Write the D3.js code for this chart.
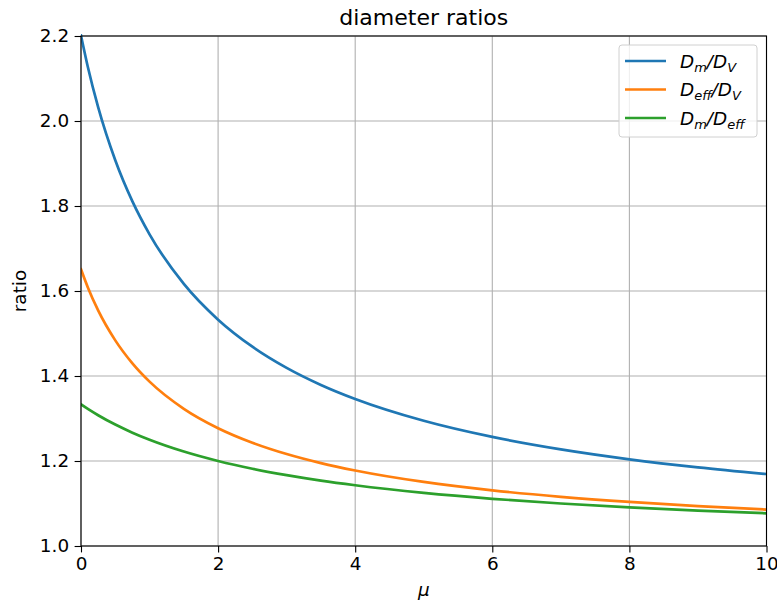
<!DOCTYPE html>
<html><head><meta charset="utf-8">
<script src="https://cdn.jsdelivr.net/npm/d3@7"></script>
<style>body{margin:0;background:#fff}svg{display:block;font-family:"DejaVu Sans",sans-serif}</style>
</head><body>
<svg id="c" width="777" height="606"></svg>
<script>
const mu      = [0, 0.1, 0.25, 0.5, 0.75, 1, 1.5, 2, 2.5, 3, 3.5, 4, 5, 6, 7, 8, 9, 10];
const dmDv    = [2.2013, 2.1271, 2.0326, 1.9077, 1.8109, 1.7334, 1.6167, 1.5326, 1.4690, 1.4192, 1.3790, 1.3459, 1.2946, 1.2566, 1.2273, 1.2040, 1.1851, 1.1694];
const deffDv  = [1.6510, 1.6083, 1.5543, 1.4838, 1.4297, 1.3867, 1.3228, 1.2772, 1.2430, 1.2164, 1.1951, 1.1777, 1.1507, 1.1309, 1.1157, 1.1037, 1.0939, 1.0858];
const dmDeff  = [1.3333, 1.3226, 1.3077, 1.2857, 1.2667, 1.2500, 1.2222, 1.2000, 1.1818, 1.1667, 1.1538, 1.1429, 1.1250, 1.1111, 1.1000, 1.0909, 1.0833, 1.0769];
const xTicks  = [0, 2, 4, 6, 8, 10];
const yTicks  = [1.0, 1.2, 1.4, 1.6, 1.8, 2.0, 2.2];
const seriesNames = [["D","m","D","V"], ["D","eff","D","V"], ["D","m","D","eff"]];
const colors  = ["#1f77b4", "#ff7f0e", "#2ca02c"];
const series  = [dmDv, deffDv, dmDeff];

const svg = d3.select("#c");
const L = 81, R = 766.5, T = 36, B = 546;
const x = d3.scaleLinear().domain([0, 10]).range([L, R]);
const y = d3.scaleLinear().domain([1.0, 2.2]).range([B, T]);

// grid
const g = svg.append("g");
g.selectAll(".gx").data(xTicks).join("line")
  .attr("x1", d => x(d)).attr("x2", d => x(d)).attr("y1", T).attr("y2", B)
  .attr("stroke", "#b0b0b0").attr("stroke-width", 1.1);
g.selectAll(".gy").data(yTicks).join("line")
  .attr("x1", L).attr("x2", R).attr("y1", d => y(d)).attr("y2", d => y(d))
  .attr("stroke", "#b0b0b0").attr("stroke-width", 1.1);

// lines
svg.append("clipPath").attr("id", "clp").append("rect")
  .attr("x", L).attr("y", T - 2).attr("width", R - L).attr("height", B - T + 2);
const line = d3.line().x((d, i) => x(mu[i])).y(d => y(d)).curve(d3.curveMonotoneX);
svg.append("g").attr("clip-path", "url(#clp)").selectAll("path").data(series).join("path")
  .attr("d", line).attr("fill", "none").attr("stroke", (d, i) => colors[i])
  .attr("stroke-width", 2.7).attr("stroke-linecap", "square");

// axes
const fmt = d3.format(".1f");
const xa = svg.append("g").attr("transform", `translate(0,${B})`)
  .call(d3.axisBottom(x).tickValues(xTicks).tickFormat(d3.format("d")).tickSize(6.4).tickSizeOuter(0).tickPadding(5));
const ya = svg.append("g").attr("transform", `translate(${L},0)`)
  .call(d3.axisLeft(y).tickValues(yTicks).tickFormat(fmt).tickSize(6.4).tickSizeOuter(0).tickPadding(5.5));
[xa, ya].forEach(a => {
  a.select(".domain").remove();
  a.selectAll("line").attr("stroke", "#000").attr("stroke-width", 1.1);
  a.selectAll("text").attr("font-size", 18.4).attr("fill", "#000").attr("font-family", "DejaVu Sans");
});
// frame
svg.append("rect").attr("x", L).attr("y", T).attr("width", R - L).attr("height", B - T)
  .attr("fill", "none").attr("stroke", "#000").attr("stroke-width", 1.1);

// labels
svg.append("text").attr("x", (L + R) / 2).attr("y", 25).attr("text-anchor", "middle")
  .attr("font-size", 22).text("diameter ratios");
svg.append("text").attr("x", (L + R) / 2).attr("y", 596).attr("text-anchor", "middle")
  .attr("font-size", 18.4).attr("font-style", "italic").text("μ");
svg.append("text").attr("transform", `translate(25.5,${(T + B) / 2}) rotate(-90)`).attr("text-anchor", "middle")
  .attr("font-size", 18.4).text("ratio");

// legend
const lg = svg.append("g");
lg.append("rect").attr("x", 619).attr("y", 45).attr("width", 138).attr("height", 92).attr("rx", 3)
  .attr("fill", "#fff").attr("fill-opacity", 0.8).attr("stroke", "#d0d0d0").attr("stroke-width", 1);
seriesNames.forEach((n, i) => {
  const yy = 61 + i * 28.5;
  lg.append("line").attr("x1", 625).attr("x2", 666).attr("y1", yy).attr("y2", yy)
    .attr("stroke", colors[i]).attr("stroke-width", 2.7);
  const t = lg.append("text").attr("x", 680).attr("y", yy + 6.5).attr("font-size", 18.4).attr("font-style", "italic");
  t.append("tspan").text(n[0]);
  t.append("tspan").attr("font-size", 13).attr("dy", 4).text(n[1]);
  t.append("tspan").attr("dy", -4).text("/" + n[2]);
  t.append("tspan").attr("font-size", 13).attr("dy", 4).text(n[3]);
});
</script>
</body></html>
